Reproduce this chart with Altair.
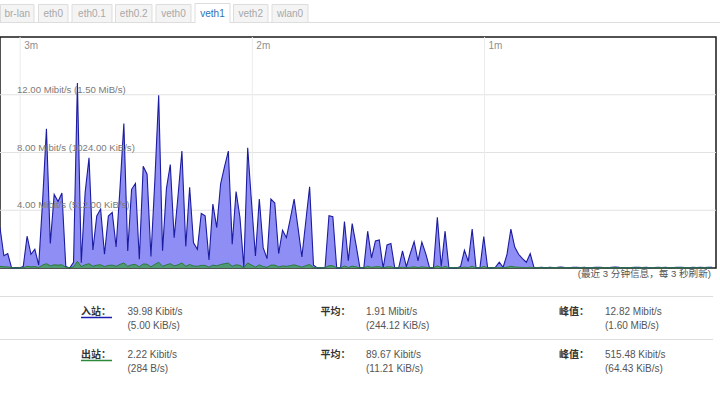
import altair as alt
import pandas as pd

# ---------------- data ----------------
TABS = ["br-lan", "eth0", "eth0.1", "eth0.2", "veth0", "veth1", "veth2", "wlan0"]
ACTIVE_TAB = "veth1"

# inbound (rx) samples, Mbit/s, one per second, oldest first
RX_MBIT = [
    2.8, 0.85, 1.0, 0.0, 0.0, 0.0, 0.1, 2.2, 0.95, 1.3, 0.2,
    4.6, 9.65, 1.7, 5.1, 4.6, 5.2, 0.1, 0.0, 0.4, 12.82,
    0.37, 5.24, 7.63, 1.25, 3.6, 4.08, 0.95, 3.6, 3.85, 1.46,
    5.5, 10.0, 1.18, 5.45, 5.85, 0.6, 7.05, 6.5, 0.8, 6.0,
    11.97, 1.2, 5.5, 7.17, 2.1, 5.0, 8.1, 1.5, 5.59, 1.75,
    1.3, 3.78, 3.62, 0.55, 4.43, 2.8, 5.82, 7.0, 8.1, 1.65, 5.3, 3.5, 0.05,
    8.33, 4.5, 0.83, 4.78, 1.41, 0.65, 4.78, 4.5, 1.0, 2.62, 2.1, 3.4, 4.78, 2.8, 0.77, 3.2, 5.63,
    0.2, 0.0, 0.0, 0.05, 3.62, 3.55, 0.0, 0.0, 3.22, 0.5, 3.08, 1.6, 0.0,
    0.0, 2.55, 0.7, 1.88, 1.95, 0.0, 1.6, 1.7, 0.0, 0.0, 1.18, 0.1, 1.0, 1.83, 0.5, 1.79, 1.0,
    0.0, 0.0, 3.52, 0.1, 2.55, 0.0, 0.0, 0.0, 0.1, 1.23, 0.45, 2.7, 0.0, 0.0,
    2.18, 0.0, 0.0, 0.05, 0.4, 0.05, 0.95, 2.7, 1.45, 0.95, 0.65, 0.4, 1.0, 0.0,
    0.03, 0.04, 0.02, 0.05, 0.03, 0.04, 0.06, 0.03, 0.02, 0.04,
    0.05, 0.03, 0.04, 0.02, 0.03, 0.05, 0.04, 0.03, 0.02, 0.04,
    0.06, 0.04, 0.03, 0.02, 0.03, 0.05, 0.04, 0.03, 0.04, 0.02,
    0.03, 0.05, 0.03, 0.04, 0.02, 0.03, 0.04, 0.05, 0.03, 0.02,
    0.04, 0.03, 0.05, 0.03, 0.04, 0.04,
]

# outbound (tx) samples, Mbit/s
TX_MBIT = [
    0.12, 0.08, 0.08, 0.02, 0.0, 0.0, 0.02, 0.12, 0.08, 0.1, 0.04,
    0.2, 0.3, 0.15, 0.22, 0.2, 0.22, 0.05, 0.02, 0.08, 0.46,
    0.1, 0.22, 0.3, 0.12, 0.2, 0.22, 0.1, 0.18, 0.2, 0.12,
    0.25, 0.35, 0.12, 0.22, 0.25, 0.08, 0.28, 0.26, 0.08, 0.25,
    0.4, 0.12, 0.22, 0.3, 0.14, 0.22, 0.35, 0.12, 0.24, 0.14,
    0.12, 0.18, 0.18, 0.06, 0.2, 0.15, 0.24, 0.3, 0.34, 0.12, 0.22, 0.18, 0.02,
    0.35, 0.2, 0.06, 0.22, 0.1, 0.05, 0.2, 0.2, 0.08, 0.14, 0.12, 0.16, 0.22, 0.14, 0.06, 0.16, 0.25,
    0.03, 0.01, 0.01, 0.02, 0.16, 0.15, 0.02, 0.01, 0.14, 0.04, 0.13, 0.08, 0.01,
    0.01, 0.12, 0.04, 0.09, 0.09, 0.01, 0.08, 0.08, 0.01, 0.01, 0.06, 0.02, 0.05, 0.08, 0.03, 0.08, 0.05,
    0.01, 0.01, 0.15, 0.02, 0.11, 0.01, 0.01, 0.01, 0.02, 0.06, 0.03, 0.12, 0.01, 0.01,
    0.1, 0.01, 0.01, 0.01, 0.03, 0.01, 0.05, 0.12, 0.07, 0.05, 0.04, 0.03, 0.05, 0.01,
    0.02, 0.01, 0.02, 0.01, 0.02, 0.02, 0.01, 0.02, 0.01, 0.02,
    0.01, 0.02, 0.02, 0.01, 0.02, 0.01, 0.02, 0.02, 0.01, 0.02,
    0.02, 0.01, 0.02, 0.01, 0.02, 0.02, 0.01, 0.02, 0.01, 0.02,
    0.01, 0.02, 0.02, 0.01, 0.02, 0.01, 0.02, 0.02, 0.01, 0.02,
    0.01, 0.02, 0.01, 0.02, 0.01, 0.0,
]

MINUTE_TICKS = [5.2, 65.2, 125.2]          # sample position of each minute line
MINUTE_LABELS = ["3m", "2m", "1m"]
Y_TICKS = [4, 8, 12]
Y_TICK_LABELS = ["4.00 Mibit/s (512.00 KiB/s)", "8.00 Mibit/s (1024.00 KiB/s)",
                 "12.00 Mibit/s (1.50 MiB/s)"]
NOTE = "(最近 3 分钟信息，每 3 秒刷新)"

ROW_LABELS = ["入站：", "出站："]
AVG_LABEL = "平均："
PEAK_LABEL = "峰值："
CUR_VALUES = [("39.98 Kibit/s", "(5.00 KiB/s)"), ("2.22 Kibit/s", "(284 B/s)")]
AVG_VALUES = [("1.91 Mibit/s", "(244.12 KiB/s)"), ("89.67 Kibit/s", "(11.21 KiB/s)")]
PEAK_VALUES = [("12.82 Mibit/s", "(1.60 MiB/s)"), ("515.48 Kibit/s", "(64.43 KiB/s)")]

assert len(RX_MBIT) == len(TX_MBIT) == 185

# ---------------- layout ----------------
W, H = 716, 231
PAD_T = 37
LATIN = "Liberation Sans"
CJK = "Noto Sans CJK SC"

series = pd.DataFrame({"t": list(range(len(RX_MBIT))), "rx": RX_MBIT, "tx": TX_MBIT})
yt = pd.DataFrame({"v": Y_TICKS, "label": Y_TICK_LABELS})
mt = pd.DataFrame({"p": MINUTE_TICKS, "label": MINUTE_LABELS})

xs = alt.Scale(domain=[0, 185], nice=False, zero=False)
ys = alt.Scale(domain=[0, 16], nice=False)
X = lambda f: alt.X(f, scale=xs, axis=None)
Y = lambda f: alt.Y(f, scale=ys, axis=None)

layers = []
layers.append(alt.Chart(yt).mark_rule(color="#e2e2e2", strokeWidth=1).encode(y=Y("v:Q")))
layers.append(alt.Chart(mt).mark_rule(color="#ececec", strokeWidth=1).encode(x=X("p:Q")))

base = alt.Chart(series)
layers.append(base.mark_area(fill="#8e8ef4", interpolate="linear").encode(x=X("t:Q"), y=Y("rx:Q")))
layers.append(base.mark_line(color="#1c1ca0", strokeWidth=1.1, interpolate="linear").encode(x=X("t:Q"), y=Y("rx:Q")))
layers.append(base.mark_area(fill="#4f9a72", interpolate="linear").encode(x=X("t:Q"), y=Y("tx:Q")))
layers.append(base.mark_line(color="#2a7a3e", strokeWidth=1, interpolate="linear").encode(x=X("t:Q"), y=Y("tx:Q")))

layers.append(alt.Chart(yt).mark_text(align="left", baseline="middle", dy=-5, fontSize=9.6,
                                      font=LATIN, color="#7a7a7a")
              .encode(x=alt.value(17), y=Y("v:Q"), text="label:N"))
layers.append(alt.Chart(mt).mark_text(align="left", baseline="middle", dx=4, fontSize=10,
                                      font=LATIN, color="#8f8f8f")
              .encode(x=X("p:Q"), y=alt.value(46 - PAD_T), text="label:N"))

ONE = alt.Data(values=[{"k": 0}])


def txt(s, x, y, size=10, color="#555555", font=LATIN, align="left", weight="normal"):
    return alt.Chart(ONE).mark_text(text=s, fontSize=size, color=color, font=font, align=align,
                                    baseline="middle", fontWeight=weight).encode(
        x=alt.value(x), y=alt.value(y - PAD_T))


def hline(x0, x1, y, color, w=1.0):
    return alt.Chart(ONE).mark_rule(color=color, strokeWidth=w).encode(
        x=alt.value(x0), x2=alt.value(x1), y=alt.value(y - PAD_T))


def box(x0, x1, y0, y1, fill, stroke):
    return alt.Chart(ONE).mark_rect(fill=fill, stroke=stroke, strokeWidth=1).encode(
        x=alt.value(x0), x2=alt.value(x1), y=alt.value(y0 - PAD_T), y2=alt.value(y1 - PAD_T))


# tabs
TAB_BOXES = [(0.5, 34), (38.5, 68), (72, 112), (115.5, 152), (156, 191), (195, 230), (233.5, 268), (272, 308)]
layers.append(hline(0, 720, 22.5, "#dddddd"))
for name, (x0, x1) in zip(TABS, TAB_BOXES):
    active = name == ACTIVE_TAB
    layers.append(box(x0, x1, 3.5 if active else 4.5, 22.5, "#ffffff" if active else "#f4f4f4", "#dddddd"))
    if active:
        layers.append(hline(x0 + 0.5, x1 - 0.5, 22.5, "#ffffff", 1.5))
    layers.append(txt(name, (x0 + x1) / 2, 13.5, 10, "#2f72b6" if active else "#a8a8a8", LATIN, "center"))

# note under the graph
layers.append(txt(NOTE, 711, 273.5, 9.6, "#555555", f"{LATIN}, {CJK}", "right"))

# statistics table
layers.append(hline(0, 713, 296.5, "#dddddd"))
layers.append(hline(0, 713, 339.5, "#dddddd"))
ROW_Y = [311.5, 354.5]
UNDER = ["#1c1cb0", "#2a8a3a"]
for r in range(2):
    y = ROW_Y[r]
    layers.append(txt(ROW_LABELS[r], 81, y, 10, "#333333", CJK, "left", "bold"))
    layers.append(hline(81, 112, y + 6, UNDER[r], 1.5))
    layers.append(txt(AVG_LABEL, 320.5, y, 10, "#333333", CJK, "left", "bold"))
    layers.append(txt(PEAK_LABEL, 559, y, 10, "#333333", CJK, "left", "bold"))
    for xv, vals in ((127.5, CUR_VALUES[r]), (366, AVG_VALUES[r]), (605, PEAK_VALUES[r])):
        layers.append(txt(vals[0], xv, y, 10, "#555555"))
        layers.append(txt(vals[1], xv, y + 14, 10, "#555555"))

chart = alt.layer(*layers).properties(
    width=W, height=H,
    autosize=alt.AutoSizeParams(type="none"),
    padding={"left": 0, "top": PAD_T, "right": 4, "bottom": 130},
    background="#ffffff",
).configure_view(stroke="#1a1a1a", strokeWidth=1.5)

chart.save("out.html", embed_options={"renderer": "svg", "actions": False})
